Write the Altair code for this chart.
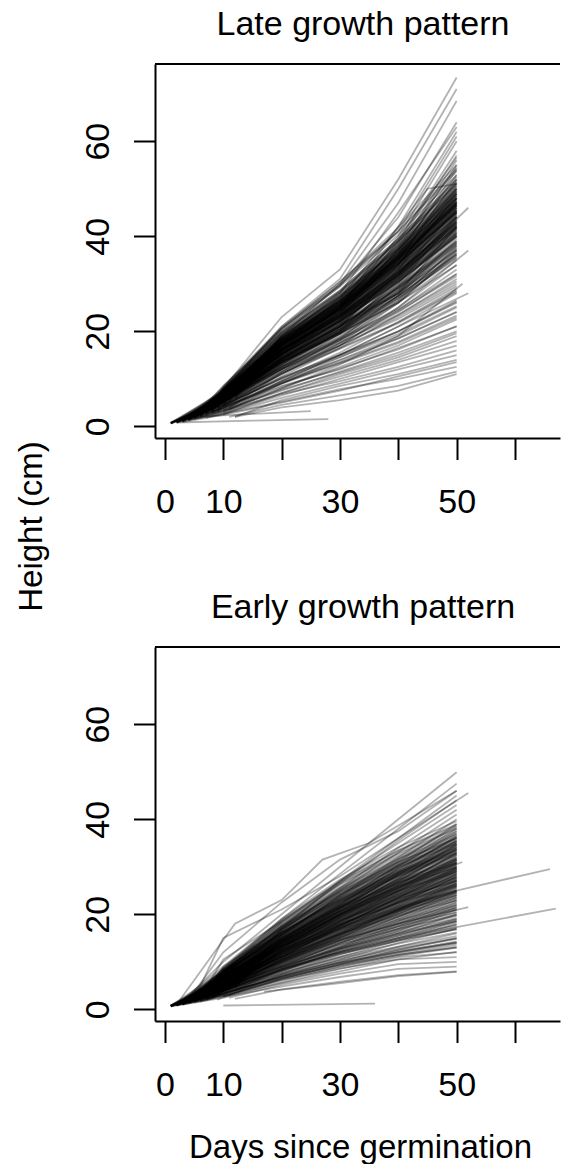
import altair as alt
import pandas as pd

FONT = "Liberation Sans"
GRID_DAYS = [10, 20, 30, 40, 50]

# ---------------- Late growth pattern ----------------
# first measurement (day, height) of each plant
LATE_FIRST = [
    (3, 1.0), (4, 1.5), (2, 0.8), (5, 2.0), (3, 1.2), (6, 2.5), (1, 0.6), (7, 3.0), (4, 1.4), (8, 3.5),
    (5, 1.8), (9, 4.0), (2, 1.0), (6, 2.2), (10, 5.0), (3, 1.1), (7, 2.8), (1, 0.7), (5, 2.0), (8, 3.2),
    (4, 1.5), (11, 5.5), (6, 2.5), (9, 3.8), (2, 0.9), (7, 3.0), (3, 1.3), (10, 4.5), (5, 2.0), (8, 3.4),
    (4, 1.6), (6, 2.4), (12, 6.0), (1, 0.6), (7, 2.9), (9, 4.2), (3, 1.2), (5, 2.1), (10, 4.0), (2, 0.8),
    (6, 2.3), (8, 3.0), (4, 1.4), (11, 3.5), (5, 1.8), (7, 2.4), (3, 1.0), (9, 3.0), (6, 2.0), (2, 0.8),
    (10, 2.5), (4, 1.3), (8, 2.6), (5, 1.5), (12, 2.0), (3, 0.9), (7, 1.8), (11, 2.0), (12, 2.0), (6, 2.6),
    (4, 1.6), (8, 3.6), (2, 1.0), (9, 4.5), (5, 2.2), (7, 3.1), (3, 1.4), (10, 5.2), (6, 2.5), (4, 1.5),
    (8, 3.3), (1, 0.8), (5, 2.4), (9, 4.8), (3, 1.6), (7, 3.8), (2, 1.1), (6, 3.0), (11, 6.5), (4, 2.0),
]
# heights on days 10, 20, 30, 40, 50 (None = not measured)
LATE_GRID_H = [
    [8.0, 23.0, 33.0, 52.0, 73.4], [7.5, 21.0, 31.0, 50.0, 71.0], [6.5, 19.0, 30.0, 47.0, 68.5],
    [8.5, 20.0, 29.5, 44.0, 64.0], [7.0, 18.5, 28.0, 45.0, 63.0], [6.0, 17.0, 27.0, 42.0, 62.0],
    [7.5, 20.5, 30.5, 41.0, 61.0], [6.5, 16.0, 25.0, 40.0, 60.0], [6.0, 15.5, 24.5, 39.0, 58.0],
    [7.0, 16.5, 25.5, 38.5, 57.0], [5.5, 14.5, 23.5, 37.5, 56.0], [6.0, 15.0, 24.0, 37.0, 55.0],
    [5.8, 14.0, 22.5, 36.0, 54.0], [6.2, 14.8, 23.0, 36.5, 53.0], [None, 14.5, 22.0, 35.0, 52.0],
    [6.8, 16.0, 24.0, 35.5, 51.0], [5.6, 13.5, 21.5, 34.0, 50.0], [5.0, 13.0, 21.0, 33.0, 49.0],
    [7.5, 17.0, 25.5, 34.5, 48.0], [5.8, 13.8, 21.0, 32.5, 47.0], [6.5, 15.0, 22.5, 32.0, 46.5],
    [None, 14.0, 21.5, 31.5, 46.0], [5.2, 12.5, 20.0, 31.0, 45.0], [5.0, 13.0, 20.5, 30.5, 44.5],
    [6.0, 14.5, 21.0, 30.0, 44.0], [7.0, 16.0, 23.0, 31.0, 43.0], [4.8, 12.0, 19.5, 29.5, 42.5],
    [None, 12.8, 20.0, 29.0, 42.0], [5.5, 13.5, 20.5, 28.5, 41.0], [6.0, 14.0, 21.0, 28.0, 40.0],
    [4.5, 11.5, 18.5, 27.5, 39.5], [6.6, 15.0, 21.5, 28.0, 39.0], [None, 12.0, 18.0, 26.5, 38.0],
    [4.2, 11.0, 17.5, 26.0, 37.0], [5.4, 12.5, 18.8, 26.5, 36.0], [6.0, 13.5, 19.5, 26.0, 35.0],
    [5.0, 12.0, 18.0, 25.0, 34.0], [4.6, 11.0, 17.0, 24.5, 33.0], [None, 11.5, 17.5, 24.0, 32.0],
    [4.0, 10.5, 16.5, 23.5, 31.0], [5.0, 12.0, 17.0, 23.0, 30.0], [4.4, 10.0, 15.5, 22.0, 29.0],
    [3.8, 9.5, 15.0, 21.0, 28.0], [None, 9.0, 14.5, 20.0, 26.5], [3.6, 9.0, 14.0, 19.0, 25.0],
    [4.0, 9.2, 13.5, 18.5, 24.0], [3.2, 8.0, 12.5, 17.0, 22.5], [4.2, 8.5, 12.0, 16.5, 21.0],
    [3.4, 7.5, 11.5, 15.5, 20.0], [3.0, 7.0, 11.0, 14.5, 19.0], [None, 7.0, 10.5, 14.0, 18.0],
    [2.8, 6.5, 10.0, 13.5, 17.0], [3.2, 6.8, 9.5, 12.5, 16.0], [2.6, 6.0, 9.0, 12.0, 15.0],
    [None, 5.5, 8.5, 11.0, 14.0], [2.4, 5.0, 7.5, 10.5, 13.5], [2.6, 5.2, 7.8, 10.0, 12.5],
    [None, 4.5, 6.5, 8.5, 11.5], [None, 4.0, 5.5, 7.5, 11.0], [7.0, 16.5, 25.0, 37.0, 52.5],
    [6.4, 15.2, 23.5, 35.0, 50.5], [6.8, 15.5, 23.0, 34.0, 48.5], [6.2, 15.0, 22.0, 33.0, 47.5],
    [6.5, 14.2, 21.5, 32.0, 45.5], [6.0, 14.0, 21.0, 31.5, 44.0], [6.2, 13.6, 20.5, 30.0, 43.5],
    [5.4, 13.2, 20.0, 29.5, 41.5], [None, 13.0, 19.5, 28.5, 40.5], [5.6, 12.8, 19.0, 27.5, 38.5],
    [5.2, 12.4, 18.5, 27.0, 37.5], [5.5, 12.2, 18.2, 26.0, 36.5], [5.5, 13.5, 20.0, 28.0, 42.0],
    [6.6, 15.8, 24.0, 34.0, 49.5], [7.2, 16.2, 24.5, 36.0, 51.5], [7.2, 17.5, 26.0, 38.0, 54.5],
    [7.6, 17.8, 26.5, 39.5, 56.5], [5.8, 14.4, 22.5, 33.5, 48.0], [7.4, 16.8, 25.0, 36.0, 50.0],
    [None, 16.0, 24.0, 35.5, 49.0], [6.9, 16.4, 24.8, 35.0, 47.0],
]
# dense core and middle: [first day, first height, h10, h20, h30, h40, h50]
LATE_CORE = [
    [2, 0.9, 5.8, 15.0, 22.0, 30.4, 40.2], [5, 2.1, 7.1, 18.2, 26.2, 36.0, 47.3], [8, 3.7, 6.3, 16.0, 23.5, 32.4, 43.1],
    [3, 1.3, 5.6, 14.5, 21.0, 29.2, 38.8], [6, 2.7, 7.7, 19.6, 28.3, 38.9, 50.9], [9, 4.4, 6.8, 17.0, 24.6, 34.1, 45.2],
    [4, 1.7, 6.1, 15.6, 22.9, 31.6, 41.9], [7, 3.3, 8.0, 20.3, 29.4, 40.3, 52.8], [1, 0.7, 5.3, 13.9, 20.2, 28.0, 37.1],
    [10, 5.1, None, 18.0, 25.9, 35.6, 46.8], [2, 1.0, 6.5, 16.9, 24.3, 33.3, 44.0], [5, 2.3, 6.7, 17.3, 25.1, 34.8, 45.9],
    [8, 3.9, 7.2, 18.5, 26.5, 36.6, 48.1], [3, 1.4, 5.2, 13.6, 19.8, 27.5, 36.4], [6, 2.8, 6.6, 16.8, 24.4, 33.8, 44.6],
    [11, 5.8, None, 19.0, 27.3, 37.6, 49.6], [4, 1.8, 5.9, 15.4, 22.3, 30.9, 40.7], [7, 3.4, 6.9, 17.7, 25.6, 35.3, 46.6],
    [2, 1.1, 7.4, 18.8, 27.0, 37.2, 48.9], [9, 4.6, 7.3, 18.7, 27.2, 37.4, 49.3], [5, 2.2, 6.3, 16.2, 23.5, 32.5, 42.8],
    [1, 0.6, 5.1, 13.3, 19.5, 27.0, 35.6], [8, 3.8, 8.1, 20.6, 29.8, 40.9, 53.7], [3, 1.5, 6.8, 17.2, 24.8, 34.2, 45.0],
    [6, 2.6, 6.0, 15.6, 22.7, 31.4, 41.4], [10, 4.9, None, 17.0, 24.4, 33.6, 44.3], [4, 1.9, 7.4, 18.6, 27.0, 37.3, 49.0],
    [7, 3.2, 6.2, 16.0, 23.3, 32.1, 42.3], [2, 0.8, 5.5, 14.4, 21.0, 29.1, 38.3], [9, 4.3, 7.1, 18.3, 26.3, 36.3, 47.8],
    [5, 2.4, 7.6, 19.2, 27.7, 38.2, 50.2], [1, 0.7, 6.2, 15.9, 23.1, 31.9, 42.0], [8, 3.5, 6.4, 16.6, 24.1, 33.2, 43.7],
    [3, 1.2, 6.3, 16.2, 23.4, 32.4, 42.6], [6, 2.9, 7.9, 19.9, 28.6, 39.4, 51.8], [11, 5.4, None, 17.4, 25.1, 34.7, 45.6],
    [4, 1.6, 5.4, 14.2, 20.7, 28.7, 37.8], [7, 3.0, 6.8, 17.3, 25.0, 34.5, 45.4], [2, 1.0, 6.7, 17.1, 24.7, 34.1, 44.9],
    [9, 4.1, 6.9, 17.6, 25.4, 35.1, 46.2], [5, 2.0, 5.9, 15.3, 22.2, 30.7, 40.4], [1, 0.8, 7.1, 18.0, 25.9, 35.8, 47.1],
    [8, 3.6, 6.8, 17.4, 25.2, 34.8, 45.8], [3, 1.3, 5.3, 14.0, 20.3, 28.0, 36.9], [6, 2.5, 7.1, 18.1, 26.2, 36.2, 47.6],
    [10, 5.3, None, 18.5, 26.7, 36.9, 48.6], [4, 1.7, 6.4, 16.5, 23.8, 32.9, 43.3], [7, 3.1, 7.4, 18.8, 27.2, 37.5, 49.4],
    [2, 0.9, 5.7, 14.8, 21.5, 29.6, 39.0], [9, 4.0, 6.4, 16.5, 23.9, 33.0, 43.4], [5, 2.2, 7.0, 17.9, 25.9, 35.7, 47.0],
    [1, 0.6, 5.8, 15.2, 21.9, 30.3, 39.9], [8, 3.4, 7.2, 18.4, 26.6, 36.8, 48.4], [3, 1.4, 7.1, 18.0, 26.1, 36.0, 47.4],
    [6, 2.6, 6.2, 16.0, 23.2, 32.1, 42.2], [12, 6.2, None, 17.6, 25.5, 35.3, 46.4], [4, 1.5, 6.7, 17.2, 24.9, 34.4, 45.3],
    [7, 3.5, 8.2, 20.6, 29.8, 41.2, 54.2], [2, 1.1, 5.8, 15.2, 22.0, 30.4, 40.0], [9, 4.7, 7.8, 19.5, 28.2, 38.9, 51.2],
    [5, 1.9, 5.5, 14.5, 21.0, 29.0, 38.1], [1, 0.7, 6.7, 17.1, 24.8, 34.3, 45.1], [8, 4.0, 7.6, 19.2, 27.8, 38.5, 50.6],
    [3, 1.1, 5.4, 14.2, 20.5, 28.3, 37.3], [6, 2.8, 6.9, 17.7, 25.6, 35.3, 46.5], [10, 4.6, None, 15.8, 22.9, 31.6, 41.6],
    [4, 1.8, 7.2, 18.2, 26.3, 36.4, 47.9], [7, 3.3, 6.4, 16.3, 23.7, 32.7, 43.0], [2, 1.0, 6.3, 16.1, 23.3, 32.2, 42.4],
    [9, 4.4, 7.2, 18.3, 26.5, 36.6, 48.2], [5, 2.3, 7.8, 19.5, 28.2, 39.0, 51.3], [1, 0.8, 5.2, 13.8, 19.9, 27.5, 36.2],
    [8, 3.7, 7.0, 17.8, 25.8, 35.6, 46.9], [3, 1.5, 6.4, 16.3, 23.7, 32.7, 43.0], [6, 3.0, 8.4, 20.9, 30.3, 41.8, 55.0],
    [11, 5.6, None, 17.9, 26.0, 35.9, 47.2], [4, 1.4, 5.1, 13.5, 19.5, 26.9, 35.4], [7, 3.6, 7.5, 18.9, 27.4, 37.8, 49.8],
    [2, 0.9, 6.1, 15.7, 22.7, 31.3, 41.2], [9, 4.2, 6.8, 17.3, 25.0, 34.6, 45.5], [5, 2.1, 6.2, 15.9, 23.0, 31.8, 41.8],
    [1, 0.6, 6.0, 15.4, 22.3, 30.9, 40.6], [8, 3.8, 7.9, 19.8, 28.6, 39.5, 52.0], [3, 1.2, 5.9, 15.2, 22.1, 30.5, 40.1],
    [6, 2.4, 6.6, 16.8, 24.3, 33.6, 44.2], [10, 5.0, None, 17.5, 25.3, 35.0, 46.0], [4, 1.6, 6.2, 15.9, 23.0, 31.8, 41.9],
    [7, 3.0, 7.2, 18.2, 26.4, 36.5, 48.0], [2, 1.0, 6.9, 17.6, 25.5, 35.2, 46.3], [9, 4.5, 7.3, 18.5, 26.8, 37.1, 48.8],
    [5, 2.0, 6.7, 17.1, 24.8, 34.3, 45.1], [1, 0.7, 5.6, 14.7, 21.2, 29.3, 38.6], [8, 3.3, 6.3, 16.2, 23.5, 32.5, 42.7],
    [3, 1.4, 7.0, 17.7, 25.7, 35.5, 46.7], [6, 2.7, 7.5, 19.0, 27.5, 38.0, 50.0], [12, 5.9, None, 17.0, 24.6, 34.0, 44.8],
    [4, 1.9, 6.9, 17.7, 25.6, 35.3, 46.5], [7, 3.2, 6.0, 15.5, 22.5, 31.1, 40.9], [2, 0.8, 5.2, 13.7, 19.8, 27.4, 36.0],
    [9, 4.0, 6.5, 16.7, 24.2, 33.4, 44.0],
    [4, 1.5, 4.8, 11.6, 17.0, 22.6, 29.5], [7, 2.6, 4.4, 10.3, 15.1, 20.0, 26.2], [2, 0.9, 5.2, 12.4, 18.2, 24.2, 31.6],
    [9, 3.3, 4.5, 10.0, 14.6, 19.4, 25.3], [5, 1.8, 3.9, 9.1, 13.4, 17.8, 23.3], [11, 3.9, None, 11.3, 16.5, 21.9, 28.6],
    [3, 1.1, 5.6, 13.3, 19.6, 26.1, 33.9], [8, 2.9, 3.6, 8.3, 12.2, 16.2, 21.1], [1, 0.7, 4.3, 10.2, 15.0, 19.9, 26.0],
    [6, 2.2, 5.1, 12.0, 17.6, 23.4, 30.5], [10, 3.4, None, 9.5, 13.9, 18.5, 24.1], [4, 1.4, 3.3, 7.7, 11.3, 15.0, 19.6],
    [7, 2.5, 5.3, 12.6, 18.5, 24.6, 32.1], [2, 0.8, 3.8, 9.0, 13.2, 17.5, 22.9], [5, 1.9, 4.7, 11.1, 16.3, 21.7, 28.3],
]
# plants measured on other days
LATE_EXTRA_DAYS = [
    [2, 15, 28], [5, 15, 25], [6, 10, 20, 30, 40, 52], [3, 10, 20, 30, 40, 52],
    [8, 10, 20, 30, 40, 52], [4, 10, 20, 30, 40, 45, 50], [10, 20, 30, 40, 51],
]
LATE_EXTRA_H = [
    [0.8, 1.2, 1.5], [2.0, 2.6, 3.2], [2.5, 6.0, 14.0, 22.0, 32.0, 46.0], [1.2, 4.5, 11.0, 17.0, 25.0, 37.0],
    [3.0, 4.0, 9.5, 15.0, 21.0, 28.0], [1.5, 6.0, 15.0, 25.0, 42.0, 50.0, 51.0], [3.0, 8.0, 13.0, 19.0, 30.0],
]

# ---------------- Early growth pattern ----------------
EARLY_FIRST = [
    (3, 1.5), (2, 1.0), (4, 2.0), (5, 2.2), (1, 0.8), (6, 2.5), (3, 1.3), (7, 3.0), (2, 1.0), (4, 1.8),
    (8, 3.5), (5, 2.0), (1, 0.7), (6, 2.6), (3, 1.2), (9, 4.0), (2, 0.9), (7, 2.8), (4, 1.6), (10, 4.5),
    (5, 2.1), (1, 0.8), (8, 3.2), (3, 1.4), (6, 2.4), (2, 1.0), (9, 3.6), (4, 1.5), (7, 2.6), (11, 5.0),
    (5, 1.9), (3, 1.1), (8, 3.0), (1, 0.6), (6, 2.2), (2, 0.9), (10, 3.8), (4, 1.4), (7, 2.4), (3, 1.2),
    (9, 3.0), (5, 1.7), (1, 0.7), (6, 2.0), (12, 4.0), (2, 0.8), (8, 2.5), (4, 1.3), (7, 2.0), (3, 1.0),
    (10, 2.6), (5, 1.4), (1, 0.6), (6, 1.6), (11, 2.4), (9, 2.0), (12, 2.2), (3, 1.5), (5, 2.3), (2, 1.0),
    (7, 3.2), (4, 1.9), (9, 4.2), (1, 0.8), (6, 2.8), (3, 1.3), (8, 3.6), (5, 2.2), (2, 0.9), (10, 4.8),
    (4, 1.7), (7, 2.9), (1, 0.7), (6, 2.3), (3, 1.2), (9, 3.9), (5, 2.0), (2, 1.1), (8, 3.4), (4, 1.8),
]
EARLY_GRID_H = [
    [10.0, 20.0, 30.0, 40.0, 49.9], [9.0, 19.0, 28.5, 38.0, 47.5], [12.0, 22.5, 31.5, 37.5, 46.0],
    [15.0, 21.0, 28.0, 36.0, 45.0], [8.0, 17.5, 26.5, 35.5, 44.0], [10.5, 18.5, 27.0, 35.0, 43.0],
    [7.5, 16.5, 25.5, 34.0, 42.0], [9.0, 17.0, 25.0, 33.0, 41.0], [7.0, 15.5, 24.0, 32.0, 40.0],
    [8.5, 16.0, 23.5, 31.0, 39.0], [8.0, 15.0, 22.5, 30.5, 38.0], [6.5, 14.5, 22.0, 30.0, 37.5],
    [6.0, 14.0, 21.5, 29.0, 36.5], [7.8, 15.5, 22.0, 29.5, 36.0], [6.2, 13.5, 21.0, 28.5, 35.0],
    [7.0, 14.0, 20.5, 27.5, 34.5], [5.5, 13.0, 20.0, 27.0, 34.0], [7.2, 14.2, 20.8, 27.2, 33.5],
    [5.8, 12.5, 19.5, 26.0, 33.0], [None, 13.5, 20.0, 26.5, 32.5], [6.8, 13.8, 19.8, 25.5, 32.0],
    [5.2, 12.0, 18.5, 25.0, 31.5], [6.4, 12.8, 19.0, 25.0, 31.0], [6.0, 12.4, 18.2, 24.5, 30.5],
    [5.6, 11.8, 18.0, 24.0, 30.0], [4.8, 11.0, 17.5, 23.5, 29.5], [6.2, 12.0, 17.8, 23.0, 29.0],
    [5.0, 11.2, 17.0, 22.5, 28.5], [5.8, 11.5, 16.8, 22.0, 28.0], [None, 12.5, 17.5, 22.5, 27.5],
    [4.6, 10.5, 16.0, 21.5, 27.0], [4.4, 10.2, 15.5, 21.0, 26.5], [5.2, 10.8, 15.8, 20.8, 26.0],
    [4.0, 9.8, 15.0, 20.5, 25.5], [4.8, 10.0, 15.2, 20.0, 25.0], [4.2, 9.5, 14.5, 19.5, 24.5],
    [None, 10.5, 15.0, 19.5, 24.0], [4.0, 9.0, 14.0, 19.0, 23.5], [4.6, 9.2, 13.8, 18.5, 23.0],
    [3.8, 8.6, 13.2, 18.0, 22.5], [4.6, 9.0, 13.0, 17.5, 22.0], [3.9, 8.4, 12.8, 17.0, 21.5],
    [3.4, 8.0, 12.5, 16.5, 21.0], [4.0, 8.2, 12.2, 16.0, 20.0], [None, 8.5, 12.0, 15.5, 19.0],
    [3.2, 7.5, 11.5, 15.0, 18.5], [3.8, 7.4, 11.0, 14.5, 18.0], [3.2, 7.0, 10.5, 14.0, 17.0],
    [3.4, 6.8, 10.0, 13.2, 16.0], [3.0, 6.4, 9.5, 12.5, 15.0], [None, 6.5, 9.4, 12.0, 14.0],
    [2.8, 6.0, 9.0, 11.5, 13.0], [2.4, 5.6, 8.5, 11.0, 12.0], [2.8, 5.5, 8.0, 10.5, 11.0],
    [None, 5.2, 7.5, 9.5, 10.0], [2.6, 4.8, 6.8, 8.5, 9.0], [None, 4.2, 5.8, 7.2, 8.0],
    [7.8, 15.8, 23.8, 31.5, 38.5], [8.2, 16.2, 23.0, 30.2, 37.0], [6.6, 14.6, 22.2, 29.6, 36.2],
    [8.0, 15.0, 21.8, 28.8, 35.5], [6.5, 13.8, 20.6, 27.6, 34.8], [7.4, 13.6, 20.2, 26.8, 33.8],
    [6.0, 13.2, 19.8, 26.2, 32.8], [7.0, 13.4, 19.4, 25.6, 31.8], [5.6, 12.2, 18.6, 24.8, 30.8],
    [6.6, 12.6, 18.4, 24.2, 29.8], [5.8, 11.6, 17.6, 23.4, 29.2], [5.0, 11.2, 17.2, 22.8, 28.4],
    [None, 12.2, 17.0, 22.4, 27.8], [5.4, 11.0, 16.4, 21.8, 27.2], [5.9, 11.0, 16.2, 21.2, 26.6],
    [4.6, 10.4, 15.8, 21.0, 26.2], [5.2, 10.6, 15.6, 20.6, 25.8], [5.2, 11.6, 17.6, 23.6, 29.6],
    [6.8, 13.0, 19.2, 25.4, 31.4], [7.2, 14.8, 21.6, 28.2, 34.6], [6.8, 14.2, 21.2, 28.4, 35.4],
    [7.6, 14.6, 21.4, 28.0, 34.2], [4.8, 10.2, 15.4, 20.2, 24.8],
]
EARLY_CORE = [
    [3, 1.3, 6.0, 13.2, 18.9, 23.6, 27.4], [6, 2.5, 6.9, 15.0, 21.5, 26.8, 31.2], [2, 0.9, 5.4, 11.8, 17.0, 21.2, 24.6],
    [8, 3.4, 7.7, 16.8, 24.2, 30.2, 35.1], [4, 1.6, 4.9, 10.7, 15.4, 19.2, 22.3], [10, 4.6, None, 14.3, 20.6, 25.6, 29.8],
    [1, 0.7, 7.4, 16.1, 23.1, 28.8, 33.5], [5, 2.0, 5.7, 12.5, 18.0, 22.4, 26.1], [7, 3.0, 8.4, 18.3, 26.4, 32.9, 38.2],
    [3, 1.2, 4.5, 9.8, 14.1, 17.5, 20.4], [9, 3.9, 6.7, 14.6, 21.0, 26.2, 30.5], [2, 1.0, 6.3, 13.8, 19.8, 24.7, 28.7],
    [6, 2.3, 5.3, 11.5, 16.5, 20.6, 23.9], [4, 1.8, 7.5, 16.3, 23.5, 29.2, 34.0], [11, 4.8, None, 15.5, 22.2, 27.7, 32.2],
    [1, 0.8, 5.6, 12.1, 17.5, 21.8, 25.3], [8, 3.2, 6.4, 14.0, 20.1, 25.0, 29.1], [5, 2.2, 8.1, 17.6, 25.3, 31.6, 36.7],
    [3, 1.1, 4.8, 10.5, 15.0, 18.7, 21.8], [7, 2.8, 6.1, 13.4, 19.3, 24.0, 27.9], [12, 4.5, None, 15.2, 21.9, 27.3, 31.7],
    [2, 0.9, 5.1, 11.1, 15.9, 19.9, 23.1], [6, 2.6, 7.3, 15.8, 22.8, 28.4, 33.0], [9, 3.7, 5.9, 12.8, 18.4, 22.9, 26.6],
    [4, 1.5, 6.6, 14.4, 20.8, 25.9, 30.1], [1, 0.6, 4.2, 9.2, 13.2, 16.5, 19.2], [5, 2.1, 6.2, 13.6, 19.6, 24.4, 28.4],
    [8, 3.5, 8.2, 18.0, 25.8, 32.2, 37.4], [3, 1.4, 5.7, 12.4, 17.8, 22.2, 25.8], [7, 2.9, 7.2, 15.6, 22.5, 28.0, 32.6],
    [10, 4.2, None, 11.6, 16.7, 20.8, 24.2], [2, 1.1, 7.9, 17.2, 24.7, 30.8, 35.8], [6, 2.4, 5.0, 10.9, 15.7, 19.5, 22.7],
    [4, 1.7, 6.5, 14.1, 20.3, 25.3, 29.4], [9, 4.0, 7.6, 16.6, 23.8, 29.7, 34.5], [1, 0.8, 5.9, 13.0, 18.6, 23.2, 27.0],
    [5, 1.9, 3.9, 8.5, 12.3, 15.3, 17.8], [7, 3.1, 6.8, 14.8, 21.3, 26.6, 30.9], [3, 1.3, 7.4, 16.2, 23.3, 29.1, 33.8],
    [11, 4.4, None, 12.6, 18.1, 22.6, 26.3], [2, 0.9, 4.6, 10.1, 14.6, 18.1, 21.1], [6, 2.7, 7.9, 17.3, 24.9, 31.0, 36.1],
    [8, 3.3, 6.2, 13.5, 19.5, 24.3, 28.2], [4, 1.4, 5.5, 12.0, 17.2, 21.4, 24.9], [1, 0.7, 6.9, 15.1, 21.7, 27.0, 31.4],
    [10, 4.4, None, 17.0, 24.5, 30.5, 35.5], [5, 2.3, 5.1, 11.2, 16.1, 20.1, 23.4], [3, 1.5, 8.6, 18.7, 26.9, 33.5, 39.0],
    [7, 2.7, 5.6, 12.3, 17.7, 22.0, 25.6], [9, 3.8, 6.7, 14.5, 20.9, 26.1, 30.3], [2, 1.0, 6.1, 13.3, 19.1, 23.8, 27.7],
    [6, 2.2, 4.4, 9.6, 13.8, 17.2, 20.0], [4, 1.9, 7.2, 15.8, 22.7, 28.3, 32.9], [12, 5.0, None, 16.7, 24.0, 29.9, 34.8],
    [1, 0.8, 6.5, 14.2, 20.4, 25.5, 29.6], [5, 2.0, 5.9, 12.9, 18.6, 23.1, 26.9], [8, 3.6, 8.3, 18.2, 26.2, 32.6, 37.9],
    [3, 1.2, 5.0, 11.0, 15.8, 19.7, 22.9], [7, 3.0, 6.8, 14.9, 21.4, 26.7, 31.0], [10, 4.0, None, 13.1, 18.8, 23.4, 27.2],
    [2, 0.8, 4.1, 8.9, 12.8, 16.0, 18.6], [6, 2.6, 7.5, 16.4, 23.6, 29.4, 34.2], [4, 1.6, 6.4, 13.9, 19.9, 24.9, 28.9],
    [9, 4.1, 7.1, 15.6, 22.4, 27.9, 32.4], [1, 0.6, 5.4, 11.7, 16.8, 21.0, 24.4], [5, 2.4, 8.0, 17.5, 25.1, 31.3, 36.4],
    [8, 3.1, 5.5, 12.0, 17.3, 21.6, 25.1], [3, 1.4, 6.8, 14.7, 21.2, 26.4, 30.7], [11, 4.7, None, 14.1, 20.2, 25.2, 29.3],
    [7, 2.6, 4.7, 10.3, 14.8, 18.5, 21.5], [2, 1.1, 7.3, 15.9, 22.9, 28.6, 33.2], [6, 2.5, 6.2, 13.4, 19.3, 24.1, 28.0],
    [4, 1.7, 8.5, 18.6, 26.7, 33.3, 38.7], [10, 4.3, None, 12.5, 17.9, 22.4, 26.0], [1, 0.7, 4.8, 10.6, 15.2, 18.9, 22.0],
    [5, 2.1, 7.0, 15.3, 22.0, 27.4, 31.9], [8, 3.4, 6.6, 14.4, 20.6, 25.7, 29.9], [3, 1.3, 7.8, 16.9, 24.4, 30.4, 35.3],
    [7, 2.8, 5.3, 11.5, 16.6, 20.6, 24.0], [9, 3.6, 6.1, 13.2, 19.0, 23.7, 27.6], [2, 0.9, 6.8, 14.8, 21.3, 26.5, 30.8],
    [6, 2.3, 3.7, 8.1, 11.7, 14.5, 16.9], [4, 1.8, 7.4, 16.1, 23.2, 28.9, 33.6], [12, 4.9, None, 14.4, 20.7, 25.8, 30.0],
    [1, 0.8, 5.8, 12.7, 18.2, 22.7, 26.4], [5, 2.2, 7.7, 16.8, 24.1, 30.0, 34.9], [8, 3.0, 5.2, 11.3, 16.3, 20.3, 23.6],
    [3, 1.5, 8.1, 17.8, 25.5, 31.8, 37.0], [7, 3.2, 6.3, 13.7, 19.7, 24.6, 28.6], [10, 4.5, None, 15.7, 22.6, 28.2, 32.8],
    [2, 1.0, 5.5, 12.0, 17.3, 21.5, 25.0], [6, 2.8, 8.7, 19.0, 27.3, 34.1, 39.6], [4, 1.5, 4.6, 10.0, 14.4, 17.9, 20.8],
    [9, 3.9, 6.4, 13.9, 20.0, 24.9, 29.0], [1, 0.7, 6.9, 15.1, 21.7, 27.1, 31.5], [5, 1.8, 4.3, 9.4, 13.5, 16.9, 19.6],
    [8, 3.7, 7.9, 17.3, 24.8, 31.0, 36.0], [3, 1.1, 6.0, 13.0, 18.7, 23.3, 27.1], [7, 2.9, 7.3, 16.0, 23.0, 28.7, 33.4],
    [11, 4.6, None, 11.9, 17.0, 21.2, 24.7],
    [3, 1.1, 3.6, 7.6, 10.8, 13.2, 15.4], [6, 2.0, 3.4, 7.0, 9.9, 12.3, 14.1], [2, 0.9, 3.9, 8.3, 11.9, 14.7, 17.2],
    [8, 2.6, 3.5, 6.6, 9.3, 11.4, 13.2], [4, 1.3, 4.2, 8.9, 12.6, 15.6, 18.3], [10, 2.8, None, 6.2, 8.6, 10.5, 12.1],
    [1, 0.7, 3.3, 7.2, 10.4, 12.9, 15.0], [5, 1.7, 4.4, 9.5, 13.6, 16.9, 19.8], [7, 2.3, 3.7, 7.8, 11.1, 13.8, 16.2],
    [3, 1.0, 2.9, 6.3, 9.0, 11.2, 13.0], [9, 2.9, 4.0, 8.4, 12.1, 15.0, 17.6], [2, 0.8, 4.6, 9.8, 14.1, 17.5, 20.4],
    [6, 1.9, 3.1, 6.5, 9.4, 11.6, 13.6], [4, 1.4, 4.8, 10.2, 14.6, 18.2, 21.3], [11, 3.0, None, 7.3, 10.2, 12.6, 14.8],
    [1, 0.6, 3.8, 8.1, 11.6, 14.4, 16.8], [8, 2.4, 4.2, 8.8, 12.7, 15.8, 18.6], [5, 1.6, 3.2, 6.9, 9.8, 12.1, 14.3],
    [3, 1.2, 4.3, 9.1, 13.0, 16.2, 19.0], [7, 2.2, 3.3, 6.9, 9.7, 12.0, 14.0],
]
EARLY_EXTRA_DAYS = [
    [10, 36], [3, 10, 20, 30, 40, 50, 66], [5, 10, 20, 30, 40, 50, 67],
    [4, 10, 20, 30, 40, 51], [6, 10, 20, 30, 40, 52], [3, 10, 20, 30, 40, 52],
    [2, 12, 20, 27, 35, 50], [17, 30, 40, 50],
]
EARLY_EXTRA_H = [
    [0.8, 1.2], [1.2, 5.0, 11.0, 16.0, 21.0, 25.0, 29.5], [2.0, 4.0, 8.5, 12.0, 15.0, 17.3, 21.2],
    [1.5, 6.0, 13.0, 20.0, 26.0, 31.0], [2.2, 5.0, 10.0, 14.5, 18.0, 21.5], [1.0, 8.0, 17.0, 27.0, 36.0, 45.5],
    [1.0, 18.0, 23.0, 31.5, 35.0, 46.0], [3.7, 5.5, 7.0, 7.9],
]

X_TICKS = [0, 10, 20, 30, 40, 50, 60]
Y_TICKS = [0, 20, 40, 60]
X_DOMAIN = [-1.71, 67.72]
Y_DOMAIN = [-2.46, 76.25]
W, H = 405, 374


def build(first, grid_h, core, extra_days, extra_h):
    rows = []
    lid = 0

    def add(points):
        nonlocal lid
        for k, (d, h) in enumerate(points):
            rows.append({"id": lid, "step": k, "day": d, "height": h})
        lid += 1

    for (d0, h0), hs in zip(first, grid_h):
        add([(d0, h0)] + [(d, h) for d, h in zip(GRID_DAYS, hs) if h is not None and d > d0])
    for row in core:
        d0, h0, hs = row[0], row[1], row[2:]
        add([(d0, h0)] + [(d, h) for d, h in zip(GRID_DAYS, hs) if h is not None and d > d0])
    for ds, hs in zip(extra_days, extra_h):
        add(list(zip(ds, hs)))
    return pd.DataFrame(rows)


def panel(df, title, xtitle=False, ytitle=False, anchor=False):
    xaxis = dict(
        values=X_TICKS,
        labelExpr="(datum.value == 20 || datum.value == 40 || datum.value == 60) ? '' : datum.label",
        labelOverlap=False, labelFlush=False, grid=False,
        tickSize=21.5, tickWidth=2, tickColor="black",
        domainWidth=2, domainColor="black",
        labelFont=FONT, labelFontSize=34, labelColor="black",
        labelBaseline="alphabetic", labelPadding=53,
        title=None,
    )
    if xtitle:
        xaxis.update(title="Days since germination", titleFont=FONT, titleFontSize=33,
                     titleFontWeight="normal", titleColor="black", titleX=205, titleY=136,
                     titleAlign="center", titleBaseline="alphabetic")
    yaxis = dict(
        values=Y_TICKS, grid=False,
        tickSize=21.5, tickWidth=2, tickColor="black",
        domainWidth=2, domainColor="black",
        labelFont=FONT, labelFontSize=34, labelColor="black",
        labelAngle=270, labelAlign="center", labelBaseline="alphabetic", labelPadding=25.5,
        title=None,
    )
    if ytitle:
        yaxis.update(title="Height (cm)", titleFont=FONT, titleFontSize=33,
                     titleFontWeight="normal", titleColor="black", titleX=-114, titleY=462,
                     titleAngle=270, titleAlign="center", titleBaseline="alphabetic")

    lines = alt.Chart(df).mark_line(color="black", opacity=0.3, strokeWidth=1.8, clip=True).encode(
        x=alt.X("day:Q", scale=alt.Scale(domain=X_DOMAIN, nice=False, zero=False), axis=alt.Axis(**xaxis)),
        y=alt.Y("height:Q", scale=alt.Scale(domain=Y_DOMAIN, nice=False, zero=False), axis=alt.Axis(**yaxis)),
        detail="id:N",
        order="step:Q",
    )
    top_rule = alt.Chart(pd.DataFrame({"a": [0]})).mark_rule(color="black", strokeWidth=2).encode(
        x=alt.value(0), x2=alt.value(W), y=alt.value(0)
    )
    title_text = alt.Chart(pd.DataFrame({"t": [title]})).mark_text(
        font=FONT, fontSize=34, color="black", align="center", baseline="alphabetic"
    ).encode(text="t:N", x=alt.value(208), y=alt.value(-29.2))
    layers = [lines, top_rule, title_text]
    if anchor:
        layers.append(
            alt.Chart(pd.DataFrame({"a": [0]})).mark_rule(color="white", strokeWidth=1).encode(
                x=alt.value(-154.5), x2=alt.value(-153.5), y=alt.value(-63)
            )
        )
    return alt.layer(*layers).properties(width=W, height=H)


late_df = build(LATE_FIRST, LATE_GRID_H, LATE_CORE, LATE_EXTRA_DAYS, LATE_EXTRA_H)
early_df = build(EARLY_FIRST, EARLY_GRID_H, EARLY_CORE, EARLY_EXTRA_DAYS, EARLY_EXTRA_H)

top = panel(late_df, "Late growth pattern", ytitle=True, anchor=True)
bottom = panel(early_df, "Early growth pattern", xtitle=True)

chart = alt.vconcat(top, bottom, spacing=209, bounds="flush").resolve_scale(
    x="independent", y="independent"
).properties(padding=0).configure_view(strokeWidth=0)

chart.save("out.html", embed_options={"renderer": "svg", "actions": False})
